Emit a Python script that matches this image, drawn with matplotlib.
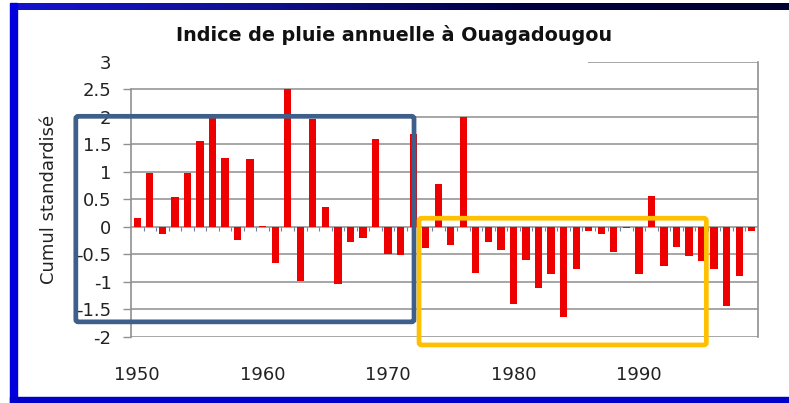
import numpy as np
import matplotlib.pyplot as plt
from matplotlib.patches import Rectangle, FancyBboxPatch
from matplotlib.colors import LinearSegmentedColormap

# annual rainfall index, Ouagadougou (standardised), 1950-1999
years = np.arange(1950, 2000)
index = [0.15, 0.98, -0.14, 0.54, 0.97, 1.56, 1.98, 1.25, -0.25, 1.23,
         0.02, -0.66, 2.50, -0.99, 1.96, 0.35, -1.04, -0.27, -0.20, 1.60,
         -0.49, -0.51, 1.69, -0.39, 0.78, -0.33, 1.99, -0.84, -0.27, -0.43,
         -1.40, -0.60, -1.11, -0.86, -1.64, -0.77, -0.07, -0.13, -0.46, -0.03,
         -0.86, 0.55, -0.71, -0.36, -0.54, -0.63, -0.77, -1.44, -0.90, -0.08]

yticks = [-2, -1.5, -1, -0.5, 0, 0.5, 1, 1.5, 2, 2.5, 3]
ytick_labels = ["-2", "-1.5", "-1", "-0.5", "0", "0.5", "1", "1.5", "2", "2.5", "3"]
xticks = [1950, 1960, 1970, 1980, 1990]

# highlighted periods (x0, x1, y0, y1) in data units
wet_box = (1945.1, 1972.07, -1.73, 2.007)
dry_box = (1972.47, 1995.38, -2.15, 0.154)

fig = plt.figure(figsize=(7.89, 4.03), dpi=100)
fig.patch.set_facecolor("white")

# blue slide frame
fig.patches.append(Rectangle((10 / 789, 0), 7 / 789, 400 / 403, transform=fig.transFigure,
                             color="#0000dd", zorder=0))
fig.patches.append(Rectangle((10 / 789, 0), 779 / 789, 6 / 403, transform=fig.transFigure,
                             color="#0000c8", zorder=0))
band = fig.add_axes([10 / 789, 393 / 403, 779 / 789, 7 / 403])
grad = np.linspace(0, 1, 256).reshape(1, -1)
cmap = LinearSegmentedColormap.from_list("band", ["#1414d0", "#10108a", "#000040", "#000030"])
band.imshow(grad, aspect="auto", cmap=cmap)
band.axis("off")

ax = fig.add_axes([131 / 789, 66.3 / 403, 627 / 789, 275 / 403])
ax.bar(years, index, width=0.58, color="#ee0000", zorder=3)

ax.set_xlim(1949.5, 1999.5)
ax.set_ylim(-2, 3)
ax.set_yticks(yticks)
ax.set_yticklabels(ytick_labels)
ax.set_xticks(xticks)

for y in yticks[1:-1]:
    ax.axhline(y, color="#a6a6a6", lw=1.4, zorder=1)
ax.plot([1986, 1999.5], [3, 3], color="#a6a6a6", lw=1.4, zorder=1)

# category ticks on the zero line
ax.vlines(years[1:] - 0.5, -0.08, 0, color="#7080a0", lw=0.8, zorder=2)

for s in ["top", "bottom"]:
    ax.spines[s].set_visible(False)
ax.spines["left"].set_bounds(-2, 2.5)
ax.spines["right"].set_bounds(-2, 3)
for s in ["left", "right"]:
    ax.spines[s].set_color("#909090")
    ax.spines[s].set_linewidth(1.2)
ax.axhline(-2, color="#a6a6a6", lw=1.4, zorder=1)

ax.tick_params(axis="y", length=6, width=1, color="#909090", pad=8,
               labelsize=13, labelcolor="#222222")
ax.tick_params(axis="x", length=0, pad=21, labelsize=13, labelcolor="#222222")
ax.yaxis.get_major_ticks()[-1].tick1line.set_visible(False)

ax.set_ylabel("Cumul standardisé", fontsize=13, color="#222222")
ax.yaxis.set_label_coords(-0.116, 0.5)

fig.text(394 / 789, 1 - 35 / 403, "Indice de pluie annuelle à Ouagadougou",
         ha="center", va="center", fontsize=13.8, fontweight="bold", color="#111111")

for (x0, x1, y0, y1), col in [(wet_box, "#3e5f8a"), (dry_box, "#ffc000")]:
    ax.add_patch(FancyBboxPatch((x0, y0), x1 - x0, y1 - y0,
                                boxstyle="round,pad=0,rounding_size=0.2",
                                fill=False, ec=col, lw=3.4, clip_on=False, zorder=5,
                                mutation_aspect=0.2))

fig.savefig("out.png", dpi=100)
